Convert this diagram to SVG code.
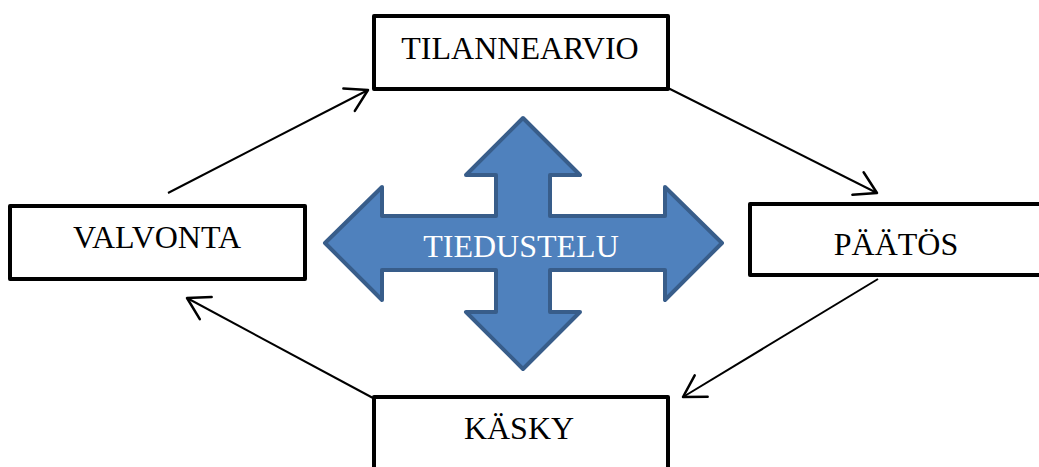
<svg xmlns="http://www.w3.org/2000/svg" width="1039" height="467" viewBox="0 0 1039 467">
  <style>
    .box { fill: #ffffff; stroke: #000000; stroke-width: 4; stroke-linejoin: round; }
    .lbl { font-family: "Liberation Serif", "Times New Roman", serif; font-size: 32px; fill: #000000; text-anchor: middle; }
    .conn { stroke: #000000; stroke-width: 2; fill: none; marker-end: url(#open); }
    .cross { fill: #4F81BD; stroke: #385D8A; stroke-width: 4; stroke-linejoin: round; }
  </style>
  <defs>
    <marker id="open" markerUnits="userSpaceOnUse" markerWidth="30" markerHeight="30" viewBox="-20 -12 24 24" refX="0" refY="0" orient="auto">
      <path d="M -17,-10 L 0,0 L -17,10" fill="none" stroke="#000000" stroke-width="2" stroke-linecap="round" stroke-linejoin="round"/>
    </marker>
  </defs>
  <rect width="1039" height="467" fill="#ffffff"/>

  <g id="tiedustelu">
    <path class="cross" d="M 523,118 L 580,175 L 550,175 L 550,216 L 665,216 L 665,187 L 722,243 L 665,300 L 665,270 L 550,270 L 550,312 L 580,312 L 523,369 L 466,312 L 496,312 L 496,270 L 382,270 L 382,300 L 325,243 L 382,187 L 382,216 L 496,216 L 496,175 L 466,175 Z"/>
    <text class="lbl" x="521" y="257" style="fill:#ffffff">TIEDUSTELU</text>
  </g>

  <g id="connectors">
    <line class="conn" x1="168" y1="193" x2="368" y2="90"/>
    <line class="conn" x1="668" y1="88" x2="877" y2="193"/>
    <line class="conn" x1="878" y1="279" x2="683" y2="397"/>
    <line class="conn" x1="373" y1="398" x2="187" y2="298"/>
  </g>

  <g id="tilannearvio">
    <rect class="box" x="374" y="16" width="294" height="73"/>
    <text class="lbl" x="520" y="59">TILANNEARVIO</text>
  </g>

  <g id="valvonta">
    <rect class="box" x="10" y="206" width="295" height="73"/>
    <text class="lbl" x="157" y="248">VALVONTA</text>
  </g>

  <g id="paatos">
    <rect class="box" x="750" y="204" width="296" height="71"/>
    <text class="lbl" x="896" y="255">PÄÄTÖS</text>
  </g>

  <g id="kasky">
    <rect class="box" x="374" y="397" width="294" height="100"/>
    <text class="lbl" x="519" y="439">KÄSKY</text>
  </g>
</svg>
